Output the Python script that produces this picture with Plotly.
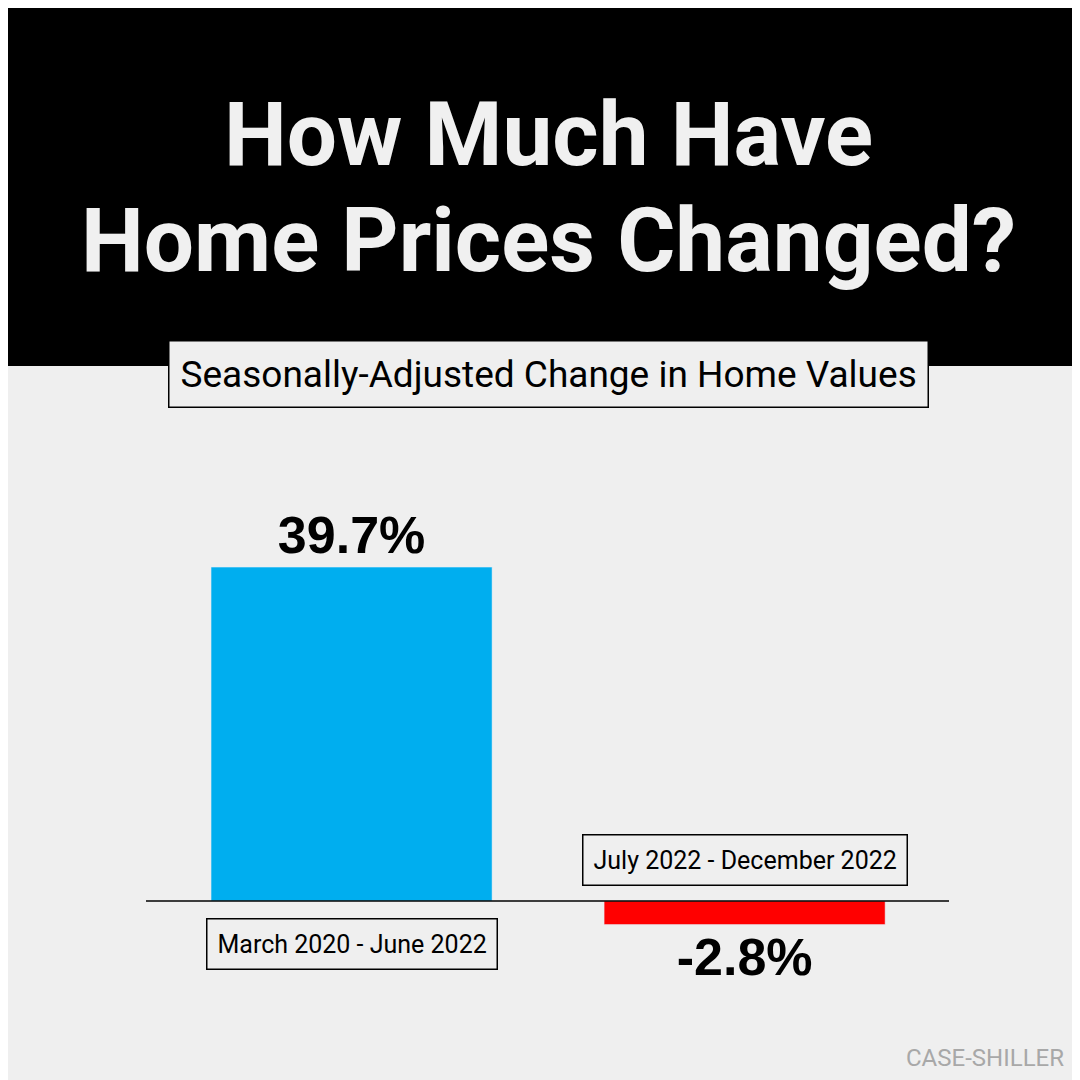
import plotly.graph_objects as go

categories = ["March 2020 - June 2022", "July 2022 - December 2022"]
values = [39.7, -2.8]
colors = ["#00AEEF", "#FF0000"]
title_lines = ["How Much Have", "Home Prices Changed?"]
subtitle = "Seasonally-Adjusted Change in Home Values"
source = "CASE-SHILLER"

L, R, T, B = 138, 941, 420, 1000
def px(x): return (x - L) / (R - L)
def py(y): return (B - y) / (B - T)

fig = go.Figure(go.Bar(
    x=[0, 1], y=values, width=0.715, marker_color=colors,
    text=[f"{v}%" for v in values], textposition="outside",
    textfont=dict(family="Liberation Sans, Arial", size=52, color="black", weight="bold"),
    cliponaxis=False,
))

ann = []
for i, line in enumerate(title_lines):
    ann.append(dict(x=px(540), y=py([127, 232][i]), xref="paper", yref="paper",
                    xanchor="center", yanchor="middle",
                    text=line, showarrow=False,
                    font=dict(family="Liberation Sans Narrow, Roboto", size=89, color="#f0f0f0", weight="bold")))
ann.append(dict(x=px(540), y=py(366), xref="paper", yref="paper", xanchor="center", yanchor="middle",
                text=subtitle, showarrow=False,
                font=dict(family="Roboto, Liberation Sans", size=37, color="black"),
                bordercolor="black", borderwidth=1.5, borderpad=11, bgcolor="#efefef"))
ann.append(dict(x=0, y=0, yshift=-43, text=categories[0], showarrow=False, xref="x", yref="y",
                xanchor="center", yanchor="middle",
                font=dict(family="Roboto, Liberation Sans", size=25, color="black"),
                bordercolor="black", borderwidth=1.5, borderpad=10, bgcolor="#efefef"))
ann.append(dict(x=1, y=0, yshift=41, text=categories[1], showarrow=False, xref="x", yref="y",
                xanchor="center", yanchor="middle",
                font=dict(family="Roboto, Liberation Sans", size=25, color="black"),
                bordercolor="black", borderwidth=1.5, borderpad=10, bgcolor="#efefef"))
ann.append(dict(x=px(1058), y=py(1050), xref="paper", yref="paper", xanchor="right", yanchor="middle",
                text=source, showarrow=False,
                font=dict(family="Roboto, Liberation Sans", size=24, color="#a8a8a8")))

fig.update_layout(
    width=1080, height=1080, margin=dict(l=L, r=1080 - R, t=T, b=1080 - B),
    paper_bgcolor="#efefef", plot_bgcolor="#efefef", showlegend=False,
    xaxis=dict(range=[-0.523, 1.520], visible=False, fixedrange=True),
    yaxis=dict(range=[(893 - B) / 8.41, (893 - T) / 8.41], visible=False, zeroline=False),
    shapes=[
        dict(type="rect", xref="paper", yref="paper", x0=px(-5), x1=px(1085), y0=py(358), y1=py(-5),
             fillcolor="black", line_width=0, layer="below"),
        dict(type="line", xref="paper", yref="y", x0=0, x1=1, y0=0, y1=0, line=dict(color="black", width=1.5)),
    ],
    annotations=ann,
)
fig.write_html("out.html")
